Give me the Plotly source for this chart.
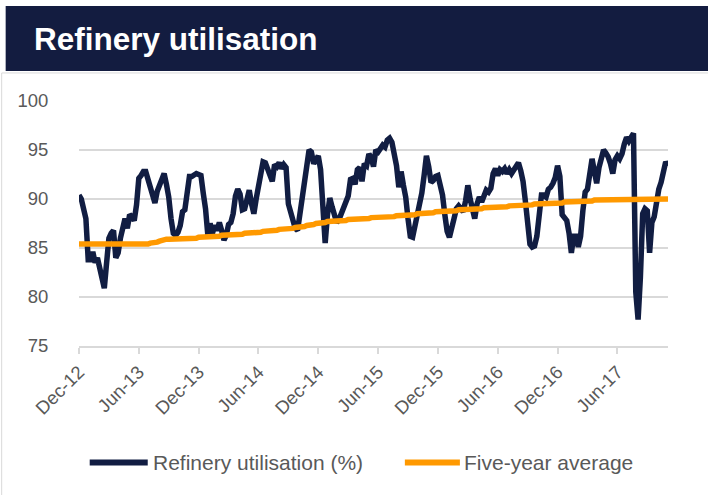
import pandas as pd
import plotly.graph_objects as go

# ---------------- data (weekly) ----------------
start_date = "2012-12-07"

utilisation = [
    90.4, 90.0, 89.0, 88.0, 83.8, 83.8, 84.6, 83.5, 84.0, 83.0,
    81.5, 80.9, 83.5, 86.0, 86.5, 86.8, 84.0, 84.5, 86.0, 87.0,
    88.0, 87.0, 88.4, 88.2, 87.8, 89.4, 92.1, 92.4, 92.8, 92.8,
    92.0, 91.2, 90.0, 89.6, 90.8, 91.5, 92.0, 92.6, 91.5, 90.2,
    88.0, 86.5, 86.3, 86.6, 87.3, 88.7, 88.9, 90.5, 92.3, 92.3,
    92.4, 92.6, 92.5, 92.4, 90.6, 89.0, 86.3, 87.5, 86.5, 87.3,
    86.8, 87.6, 86.8, 85.8, 86.3, 87.4, 87.6, 88.5, 90.3, 91.0,
    90.5, 88.9, 89.0, 90.2, 90.9, 89.5, 88.5, 90.0, 91.5, 92.5,
    93.8, 93.7, 93.0, 92.4, 91.8, 93.5, 93.3, 93.7, 93.1, 93.5,
    93.2, 89.5, 88.7, 87.7, 87.0, 86.8, 88.5, 90.5, 91.4, 93.2,
    95.0, 94.8, 93.6, 94.0, 94.4, 93.0, 89.6, 85.5, 88.4, 90.1,
    89.2, 88.2, 87.6, 87.9, 88.6, 89.1, 89.6, 90.3, 92.0, 92.1,
    91.5, 93.0, 93.2, 91.8, 93.6, 93.4, 94.6, 94.2, 93.3, 95.0,
    94.8, 95.3, 95.5, 95.3, 96.0, 96.2, 95.8, 94.6, 93.4, 91.2,
    92.8, 91.4, 90.2, 88.0, 86.2, 86.1, 87.2, 88.5, 89.6, 90.6,
    92.4, 94.4, 93.3, 91.7, 91.9, 92.3, 92.4, 91.5, 90.4, 88.4,
    86.7, 86.1, 86.9, 88.0, 89.0, 89.3, 89.0, 88.7, 89.8, 91.4,
    90.0, 88.8, 88.0, 89.5, 90.2, 89.7, 90.4, 90.9, 90.7, 91.1,
    92.6, 93.1, 92.4, 93.0, 92.8, 93.1, 92.6, 93.0, 92.6, 93.0,
    93.3, 93.7, 92.9, 91.8, 89.8, 87.0, 85.4, 85.1, 85.2, 86.2,
    88.3, 90.4, 90.4, 90.2, 91.0, 91.2, 91.6, 92.2, 93.4, 92.3,
    88.4, 88.1, 87.8, 86.5, 84.5, 86.2, 86.2, 85.1, 86.2, 88.8,
    90.7, 91.0, 92.8, 94.1, 92.8, 91.6, 93.2, 94.0, 95.0, 94.7,
    94.3, 93.6, 92.6, 94.0, 94.4, 94.1, 94.6, 95.6, 96.3, 95.9,
    96.2, 96.7, 80.5, 77.7, 82.0, 88.5, 89.0, 88.8, 84.5, 87.6,
    88.2, 89.8, 91.0, 91.7, 93.0, 93.8, 93.4,
]

five_year_avg = [
    85.4, 85.4, 85.4, 85.4, 85.3, 85.3, 85.3, 85.3, 85.3, 85.3,
    85.3, 85.3, 85.3, 85.3, 85.3, 85.3, 85.3, 85.3, 85.3, 85.3,
    85.3, 85.3, 85.3, 85.3, 85.3, 85.3, 85.3, 85.3, 85.4, 85.4,
    85.4, 85.5, 85.5, 85.6, 85.6, 85.7, 85.8, 85.8, 85.9, 85.9,
    85.9, 85.9, 85.9, 85.9, 86.0, 86.0, 86.0, 86.0, 86.0, 86.0,
    86.0, 86.0, 86.1, 86.1, 86.1, 86.1, 86.1, 86.2, 86.2, 86.2,
    86.2, 86.2, 86.3, 86.3, 86.3, 86.3, 86.3, 86.4, 86.4, 86.4,
    86.4, 86.4, 86.5, 86.5, 86.5, 86.5, 86.6, 86.6, 86.6, 86.6,
    86.7, 86.7, 86.7, 86.7, 86.8, 86.8, 86.8, 86.9, 86.9, 86.9,
    86.9, 87.0, 87.0, 87.0, 87.1, 87.1, 87.1, 87.2, 87.2, 87.3,
    87.3, 87.4, 87.4, 87.5, 87.5, 87.6, 87.6, 87.6, 87.7, 87.7,
    87.7, 87.7, 87.8, 87.8, 87.8, 87.8, 87.8, 87.9, 87.9, 87.9,
    87.9, 87.9, 88.0, 88.0, 88.0, 88.0, 88.0, 88.1, 88.1, 88.1,
    88.1, 88.1, 88.1, 88.2, 88.2, 88.2, 88.2, 88.2, 88.3, 88.3,
    88.3, 88.3, 88.3, 88.4, 88.4, 88.4, 88.4, 88.5, 88.5, 88.5,
    88.5, 88.5, 88.6, 88.6, 88.6, 88.7, 88.7, 88.7, 88.7, 88.8,
    88.8, 88.8, 88.8, 88.8, 88.8, 88.9, 88.9, 88.9, 88.9, 88.9,
    88.9, 89.0, 89.0, 89.0, 89.0, 89.0, 89.1, 89.1, 89.1, 89.1,
    89.1, 89.1, 89.2, 89.2, 89.2, 89.2, 89.2, 89.3, 89.3, 89.3,
    89.3, 89.3, 89.4, 89.4, 89.4, 89.4, 89.4, 89.4, 89.5, 89.5,
    89.5, 89.5, 89.5, 89.5, 89.6, 89.6, 89.6, 89.6, 89.6, 89.6,
    89.6, 89.7, 89.7, 89.7, 89.7, 89.7, 89.7, 89.8, 89.8, 89.8,
    89.8, 89.8, 89.8, 89.8, 89.9, 89.9, 89.9, 89.9, 89.9, 89.9,
    89.9, 89.9, 90.0, 90.0, 90.0, 90.0, 90.0, 90.0, 90.0, 90.0,
    90.0, 90.0, 90.0, 90.0, 90.0, 90.0, 90.0, 90.0, 90.0, 90.0,
    90.0, 90.0, 90.0, 90.0, 90.0, 90.0, 90.0,
]

tick_labels = ["Dec-12", "Jun-13", "Dec-13", "Jun-14", "Dec-14",
               "Jun-15", "Dec-15", "Jun-16", "Dec-16", "Jun-17"]
y_ticks = [75, 80, 85, 90, 95, 100]

title_text = "Refinery utilisation"
series_names = ["Refinery utilisation (%)", "Five-year average"]

# ---------------- figure ----------------
dates = pd.date_range(start_date, periods=len(utilisation), freq="7D")
tick_dates = [dates[i * 26] for i in range(len(tick_labels))]

W, H = 708, 495
L, R, T, B = 79.3, 40, 101, 149.3
pw, ph = W - L - R, H - T - B

def px_x(x):
    return (x - L) / pw

def px_y(y):
    return 1 - (y - T) / ph

NAVY = "#111d42"
ORANGE = "#ff9900"
GREY_TXT = "#595959"
GRID = "#d9d9d9"
FONT = "Liberation Sans, Arial, sans-serif"
colors = [NAVY, ORANGE]

fig = go.Figure()
fig.add_trace(go.Scatter(
    x=dates, y=utilisation, mode="lines", name=series_names[0],
    line=dict(color=NAVY, width=5.5), showlegend=False,
))
fig.add_trace(go.Scatter(
    x=dates, y=five_year_avg, mode="lines", name=series_names[1],
    line=dict(color=ORANGE, width=5.5), showlegend=False,
))

# legend drawn as line samples + text, matching the reference layout
legend_y = 462
legend_items = [(90, 148, 151), (405, 460, 462)]
shapes = [
    dict(type="rect", xref="paper", yref="paper",
         x0=px_x(6), x1=px_x(712), y0=px_y(71), y1=px_y(6),
         fillcolor="#131c40", line=dict(width=0), layer="below"),
    dict(type="line", xref="paper", yref="paper",
         x0=px_x(2), x1=px_x(712), y0=px_y(73), y1=px_y(73),
         line=dict(color=GRID, width=1)),
    dict(type="line", xref="paper", yref="paper",
         x0=px_x(2), x1=px_x(2), y0=px_y(73), y1=px_y(500),
         line=dict(color=GRID, width=1)),
]
annotations = [
    dict(text=f"<b>{title_text}</b>", xref="paper", yref="paper",
         x=px_x(32), y=px_y(39), xanchor="left", yanchor="middle",
         showarrow=False,
         font=dict(family=FONT, size=31.5, color="white")),
]
for (lx0, lx1, tx), name, col in zip(legend_items, series_names, colors):
    shapes.append(dict(type="line", xref="paper", yref="paper",
                       x0=px_x(lx0), x1=px_x(lx1),
                       y0=px_y(legend_y), y1=px_y(legend_y),
                       line=dict(color=col, width=6)))
    annotations.append(dict(text=name, xref="paper", yref="paper",
                            x=px_x(tx), y=px_y(legend_y),
                            xanchor="left", yanchor="middle", showarrow=False,
                            font=dict(family=FONT, size=21, color=GREY_TXT)))

fig.update_layout(
    width=W, height=H,
    margin=dict(l=L, r=R, t=T, b=B, autoexpand=False),
    paper_bgcolor="white", plot_bgcolor="white",
    font=dict(family=FONT, size=18, color=GREY_TXT),
    showlegend=False,
    shapes=shapes,
    annotations=annotations,
)

fig.update_xaxes(
    type="date", range=[dates[0], dates[-1]],
    tickmode="array", tickvals=tick_dates, ticktext=tick_labels,
    tickangle=-45, showgrid=False, zeroline=False,
    showline=True, linecolor=GRID, linewidth=2,
    ticks="outside", ticklen=6, tickcolor=GRID, tickwidth=2,
    tickfont=dict(family=FONT, size=18.5, color=GREY_TXT),
)
fig.update_yaxes(
    range=[75, 100], tickmode="array", tickvals=y_ticks,
    showgrid=True, gridcolor=GRID, gridwidth=2, zeroline=False,
    showline=False,
    ticks="outside", ticklen=26, tickcolor="rgba(0,0,0,0)",
    tickfont=dict(family=FONT, size=18.5, color=GREY_TXT),
)

fig.write_html("out.html",
               config={"displayModeBar": False},
               post_script="document.body.style.margin='0';document.body.style.overflow='hidden';")
